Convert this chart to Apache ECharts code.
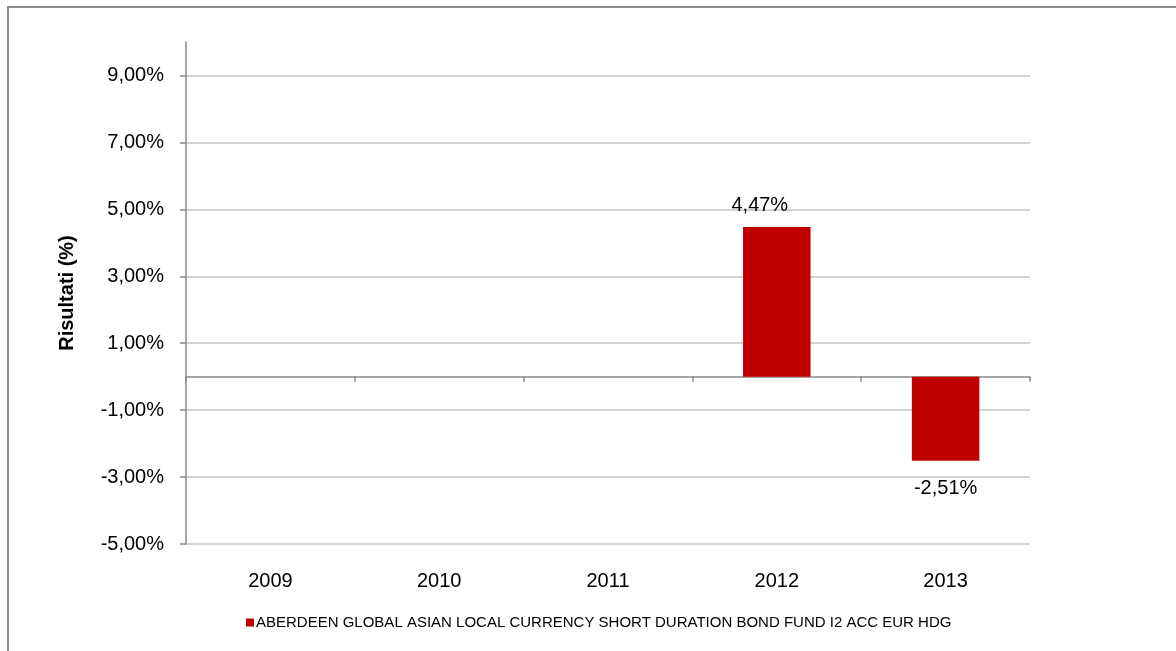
<!DOCTYPE html>
<html>
<head>
<meta charset="utf-8">
<script src="https://cdn.jsdelivr.net/npm/echarts@6/dist/echarts.min.js"></script>
<style>
html,body{margin:0;padding:0;background:#fff;}
#c{width:1176px;height:651px;}
</style>
</head>
<body>
<div id="c"></div>
<script>
const categories = ['2009', '2010', '2011', '2012', '2013'];
const values = [null, null, null, 4.47, -2.51];
const yTicks = [-5, -3, -1, 1, 3, 5, 7, 9];
const seriesName = 'ABERDEEN GLOBAL ASIAN LOCAL CURRENCY SHORT DURATION BOND FUND I2 ACC EUR HDG';
const yTitle = 'Risultati (%)';

const fmt = v => v.toFixed(2).replace('.', ',') + '%';
const FONT = '"Liberation Sans", Arial, sans-serif';

const chart = echarts.init(document.getElementById('c'), null, {renderer: 'canvas'});
const splitColors = yTicks.map(() => '#c4c4c4').concat(['transparent']);

chart.setOption({
  animation: false,
  backgroundColor: '#fff',
  textStyle: {fontFamily: FONT},
  graphic: [{
    type: 'rect',
    shape: {x: 8, y: 7, width: 1200, height: 700},
    style: {fill: 'none', stroke: '#8c8c8c', lineWidth: 2},
    silent: true, z: -1
  }],
  grid: {left: 186, right: 146, top: 42, bottom: 107},
  legend: {
    show: true,
    left: 241, top: 610,
    itemWidth: 8, itemHeight: 8, itemGap: 10,
    icon: 'rect',
    textStyle: {fontFamily: FONT, fontSize: 15, color: '#000', padding: [0, 0, 0, -3]},
    data: [seriesName]
  },
  xAxis: [{
    type: 'category',
    data: categories,
    position: 'bottom',
    axisLine: {show: false, onZero: false},
    axisTick: {show: false},
    axisLabel: {fontFamily: FONT, fontSize: 20, color: '#000', margin: 27},
    splitLine: {show: false}
  }, {
    type: 'category',
    data: categories,
    position: 'bottom',
    axisLine: {show: true, onZero: true, lineStyle: {color: '#888', width: 1.5}},
    axisTick: {show: true, length: 5, alignWithLabel: false, lineStyle: {color: '#888', width: 1.5}},
    axisLabel: {show: false},
    splitLine: {show: false}
  }],
  yAxis: {
    type: 'value',
    min: -5, max: 10, interval: 2,
    name: yTitle,
    nameLocation: 'middle',
    nameGap: 109,
    nameRotate: 90,
    nameTextStyle: {fontFamily: FONT, fontSize: 20, fontWeight: 'bold', color: '#000'},
    axisLine: {show: true, lineStyle: {color: '#888', width: 1.5}},
    axisTick: {show: true, length: 6, customValues: yTicks, lineStyle: {color: '#888', width: 1.5}},
    axisLabel: {fontFamily: FONT, fontSize: 20, color: '#000', margin: 22, customValues: yTicks, formatter: v => fmt(v)},
    splitLine: {show: true, lineStyle: {color: splitColors, width: 1.5}}
  },
  series: [{
    name: seriesName,
    type: 'bar',
    xAxisIndex: 0,
    barWidth: '40%',
    itemStyle: {color: '#C00000'},
    label: {
      show: true,
      fontFamily: FONT, fontSize: 20, color: '#000',
      formatter: p => fmt(p.value)
    },
    data: values.map(v => v === null ? '-' : (v >= 0
      ? {value: v, label: {position: 'top', distance: 12, offset: [-17, 0]}}
      : {value: v, label: {position: 'bottom', distance: 18}}))
  }]
});
</script>
</body>
</html>
